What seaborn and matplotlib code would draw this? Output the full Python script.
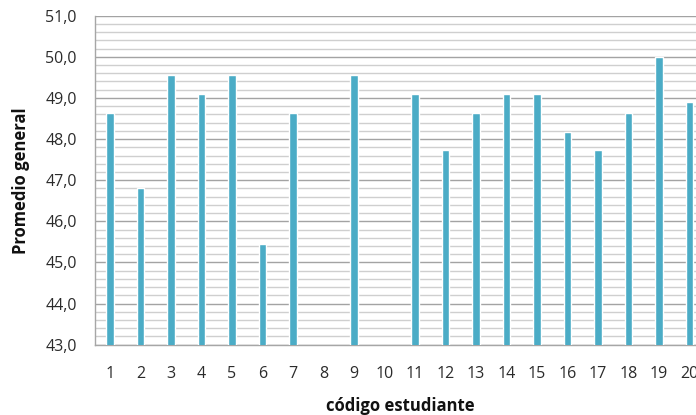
import numpy as np
import pandas as pd
import matplotlib
matplotlib.use("Agg")
import matplotlib.pyplot as plt
from matplotlib.ticker import MultipleLocator, FuncFormatter
import seaborn as sns

# Data
codigos = [str(i) for i in range(1, 21)]
promedios = [48.64, 46.82, 49.55, 49.09, 49.55, 45.45, 48.64, np.nan, 49.55, np.nan,
             49.09, 47.73, 48.64, 49.09, 49.09, 48.18, 47.73, 48.64, 50.0, 48.91]

df = pd.DataFrame({"codigo": codigos, "promedio": promedios})

sns.set_style("white")
plt.rcParams["font.family"] = ["Open Sans", "DejaVu Sans"]

fig = plt.figure(figsize=(6.96, 4.15), dpi=100)
ax = fig.add_axes([0.1362, 0.1694, 0.8763, 0.7928])

sns.barplot(data=df, x="codigo", y="promedio", color="#4BACC6", width=0.24,
            saturation=1, ax=ax, zorder=3)

ax.set_ylim(43, 51)
ax.set_xlim(-0.5, 19.5)
ax.yaxis.set_major_locator(MultipleLocator(1))
ax.yaxis.set_minor_locator(MultipleLocator(0.2))
ax.yaxis.set_major_formatter(FuncFormatter(lambda v, p: f"{v:.1f}".replace(".", ",")))

ax.grid(which="major", axis="y", color="#A3A3A3", linewidth=1.0, zorder=0)
ax.grid(which="minor", axis="y", color="#CFCFCF", linewidth=1.0, zorder=0)
ax.set_axisbelow(True)

for s in ["top", "right"]:
    ax.spines[s].set_visible(False)
ax.spines["left"].set_color("#A6A6A6")
ax.spines["bottom"].set_color("#A6A6A6")
ax.spines["left"].set_linewidth(1.0)
ax.spines["bottom"].set_linewidth(1.0)

ax.tick_params(axis="y", which="major", length=5, width=1, color="#A6A6A6",
               pad=8, labelsize=11.5, labelcolor="#2b2b2b")
ax.tick_params(axis="y", which="minor", length=0)
ax.tick_params(axis="x", length=0, pad=15, labelsize=11.5, labelcolor="#2b2b2b")

ax.set_xlabel("código estudiante", fontsize=12, fontweight="bold", color="#111111")
ax.set_ylabel("Promedio general", fontsize=12, fontweight="bold", color="#111111")
ax.xaxis.set_label_coords(0.501, -0.16)
ax.yaxis.set_label_coords(-0.107, 0.5)

fig.savefig("out.png", dpi=100)
